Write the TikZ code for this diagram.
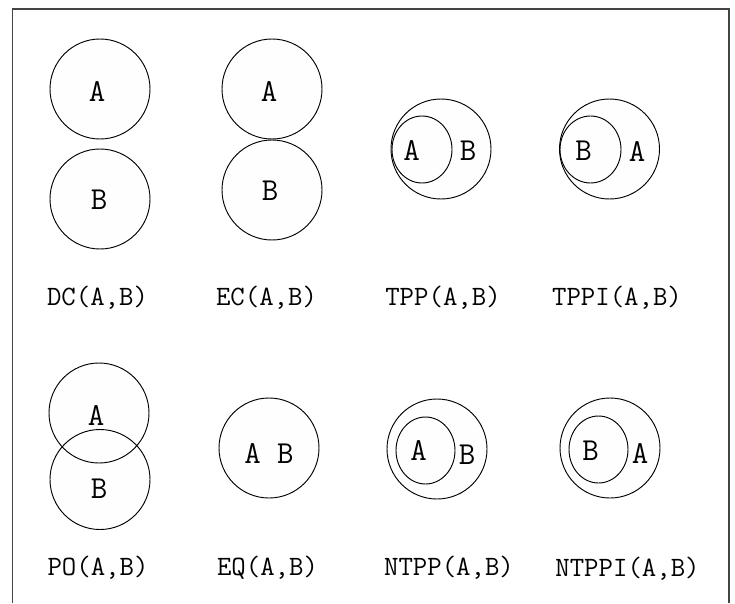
\documentclass[tikz,border=0pt]{standalone}
\definecolor{framegray}{RGB}{68,68,68}
\definecolor{regionfill}{RGB}{254,254,254}
\tikzset{
  region/.style={draw=black,line width=0.7pt,fill=regionfill},
  letter/.style={font=\ttfamily\fontsize{24}{24}\selectfont,inner sep=0pt},
  relname/.style={font=\ttfamily\fontsize{21}{21}\selectfont,inner sep=0pt,anchor=base}
}
\begin{document}
\begin{tikzpicture}[x=0.75pt,y=-0.75pt]
  \useasboundingbox (0,0) rectangle (735,603);
  % frame, open at the bottom
  \draw[framegray,line width=0.9pt] (12.5,603) -- (12.5,9) -- (729,9) -- (729,603);

  % DC
  \draw[region] (100,89) circle (50);
  \draw[region] (100,199) circle (50);
  \node[letter] (dcA) at (97,91) {A};
  \node[letter] (dcB) at (99,200) {B};
  \node[relname] (dcname) at (97.5,305) {DC(A,B)};

  % EC
  \draw[region] (272,89) circle (50);
  \draw[region] (272,190) circle (50);
  \node[letter] (ecA) at (269,91) {A};
  \node[letter] (ecB) at (270,191) {B};
  \node[relname] (ecname) at (266.5,305) {EC(A,B)};

  % TPP
  \draw[region] (441,149) circle (50);
  \draw[region] (422,149.5) ellipse [x radius=30,y radius=33.5];
  \node[letter] (tppA) at (411.5,150.5) {A};
  \node[letter] (tppB) at (468,150.5) {B};
  \node[relname] (tppname) at (443,305) {TPP(A,B)};

  % TPPI
  \draw[region] (609.5,149) circle (50);
  \draw[region] (590.5,149.5) ellipse [x radius=30.5,y radius=33.5];
  \node[letter] (tppiB) at (583.5,151) {B};
  \node[letter] (tppiA) at (637,151) {A};
  \node[relname] (tppiname) at (617,305) {TPPI(A,B)};

  % PO
  \fill[regionfill] (99,413) circle (50);
  \fill[regionfill] (100,479.5) circle (50);
  \draw[line width=0.7pt] (99,413) circle (50);
  \draw[line width=0.7pt] (100,479.5) circle (50);
  \node[letter] (poA) at (96,415) {A};
  \node[letter] (poB) at (99,489) {B};
  \node[relname] (poname) at (98,575) {PO(A,B)};

  % EQ
  \draw[region] (269,448) circle (50);
  \node[letter] (eqAB) at (269,453) {A B};
  \node[relname] (eqname) at (267.5,575) {EQ(A,B)};

  % NTPP
  \draw[region] (437,449) circle (50);
  \draw[region] (425.5,450.5) ellipse [x radius=29.5,y radius=33.5];
  \node[letter] (ntppA) at (418.5,450.5) {A};
  \node[letter] (ntppB) at (467,455) {B};
  \node[relname] (ntppname) at (449,575) {NTPP(A,B)};

  % NTPPI
  \draw[region] (610,448) circle (50);
  \draw[region] (598.5,449.5) ellipse [x radius=29.5,y radius=33.5];
  \node[letter] (ntppiB) at (590.5,450.5) {B};
  \node[letter] (ntppiA) at (640,453.5) {A};
  \node[relname] (ntppiname) at (627.5,576) {NTPPI(A,B)};
\end{tikzpicture}
\end{document}
